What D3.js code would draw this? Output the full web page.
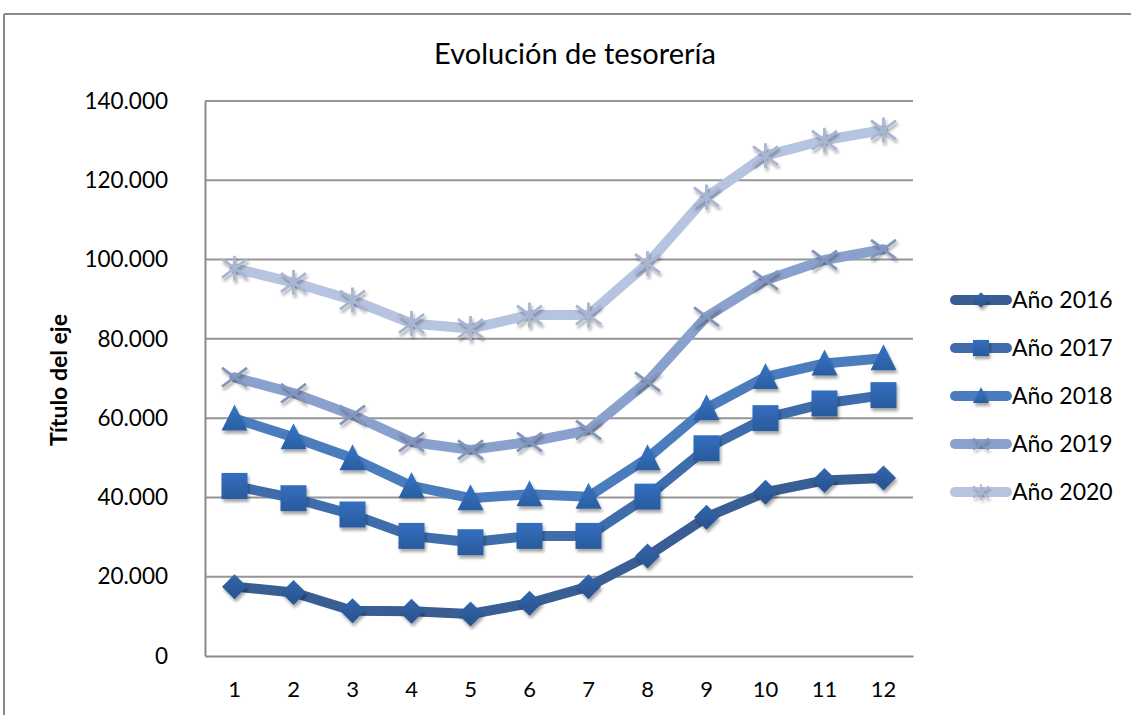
<!DOCTYPE html>
<html>
<head>
<meta charset="utf-8">
<script src="https://cdn.jsdelivr.net/npm/d3@7"></script>
<style>
  html, body { margin: 0; padding: 0; background: #ffffff; }
  svg { display: block; }
</style>
</head>
<body>
<svg id="chart" width="1131" height="715"></svg>
<script>
// ---- data ----
const months = [1, 2, 3, 4, 5, 6, 7, 8, 9, 10, 11, 12];
const seriesNames = ["Año 2016", "Año 2017", "Año 2018", "Año 2019", "Año 2020"];
const values2016 = [17500, 16000, 11400, 11300, 10600, 13300, 17500, 25200, 35000, 41300, 44300, 44900];
const values2017 = [42900, 39800, 35700, 30300, 28700, 30300, 30300, 40200, 52400, 60000, 63700, 65800];
const values2018 = [59900, 55200, 49900, 42900, 39800, 40800, 40200, 49900, 62500, 70400, 73800, 75100];
const values2019 = [70300, 66300, 60800, 54000, 52000, 54000, 57000, 69200, 85600, 94800, 99900, 102600];
const values2020 = [97800, 94200, 89800, 83900, 82600, 86000, 86000, 99000, 115800, 126200, 130100, 132700];
const yTicks = [0, 20000, 40000, 60000, 80000, 100000, 120000, 140000];
const title = "Evolución de tesorería";
const yTitle = "Título del eje";

const allValues = [values2016, values2017, values2018, values2019, values2020];
const lineColors = ["#395e94", "#3f6dac", "#4a7cbe", "#8aa1cd", "#b6c4e0"];
const markerColors = ["#2c5a99", "#2d62aa", "#2f67b0", "#8295bd", "#a8b5d3"];
const markerTypes = ["diamond", "square", "triangle", "x", "star"];

// ---- layout ----
const svg = d3.select("#chart");
const plot = { left: 205, right: 913, top: 101, bottom: 656 };

const x = d3.scaleBand().domain(months).range([plot.left, plot.right]);
const xc = m => x(m) + x.bandwidth() / 2;
const y = d3.scaleLinear().domain([0, 140000]).range([plot.bottom, plot.top]);

const locale = d3.formatLocale({ decimal: ",", thousands: ".", grouping: [3], currency: ["", "€"] });
const fmt = locale.format(",");

const font = "Lato, 'Open Sans', sans-serif";

// defs: shadow + gradients
const defs = svg.append("defs");
const filt = defs.append("filter").attr("id", "shadow").attr("x", "-50%").attr("y", "-50%").attr("width", "200%").attr("height", "200%");
filt.append("feDropShadow").attr("dx", 1.5).attr("dy", 3).attr("stdDeviation", 1.8)
  .attr("flood-color", "#000").attr("flood-opacity", 0.35);
markerColors.forEach((c, i) => {
  const g = defs.append("linearGradient").attr("id", "grad" + i).attr("x1", 0).attr("y1", 0).attr("x2", 0).attr("y2", 1);
  g.append("stop").attr("offset", "0%").attr("stop-color", d3.color(c).brighter(0.35));
  g.append("stop").attr("offset", "100%").attr("stop-color", d3.color(c).darker(0.25));
});

// outer frame (partial, top + left visible)
svg.append("line").attr("x1", 4).attr("y1", 14).attr("x2", 1131).attr("y2", 14)
  .attr("stroke", "#8a8a8a").attr("stroke-width", 2);
svg.append("line").attr("x1", 4).attr("y1", 14).attr("x2", 4).attr("y2", 715)
  .attr("stroke", "#8a8a8a").attr("stroke-width", 2);

// title
svg.append("text").attr("x", 575).attr("y", 64).attr("text-anchor", "middle")
  .attr("font-family", font).attr("font-size", 29).attr("fill", "#000").text(title);

// gridlines
svg.append("g").selectAll("line").data(yTicks.filter(t => t > 0)).join("line")
  .attr("x1", plot.left).attr("x2", plot.right)
  .attr("y1", d => y(d)).attr("y2", d => y(d))
  .attr("stroke", "#959595").attr("stroke-width", 2);

// y axis
const yAxis = d3.axisLeft(y).tickValues(yTicks).tickFormat(d => fmt(d)).tickSize(0).tickPadding(37);
const gy = svg.append("g").attr("transform", `translate(${plot.left},0)`).call(yAxis);
gy.select(".domain").attr("stroke", "#8a8a8a").attr("stroke-width", 2);
gy.selectAll("text").attr("font-family", font).attr("font-size", 22.5).attr("fill", "#000");

// x axis
const xAxis = d3.axisBottom(x).tickSize(0).tickPadding(25);
const gx = svg.append("g").attr("transform", `translate(0,${plot.bottom})`).call(xAxis);
gx.select(".domain").attr("stroke", "#8a8a8a").attr("stroke-width", 2);
gx.selectAll("text").attr("font-family", font).attr("font-size", 22).attr("fill", "#000");

// y title
svg.append("text").attr("transform", "translate(67,380) rotate(-90)").attr("text-anchor", "middle")
  .attr("font-family", font).attr("font-weight", "bold").attr("font-size", 23).attr("fill", "#000").text(yTitle);

// marker drawing
function drawMarker(g, type, i, cx, cy, scale) {
  const s = scale || 1;
  const fill = `url(#grad${i})`;
  if (type === "diamond") {
    const r = 12.5 * s;
    g.append("path").attr("d", `M${cx},${cy - r}L${cx + r},${cy}L${cx},${cy + r}L${cx - r},${cy}Z`)
      .attr("fill", fill).attr("filter", "url(#shadow)");
  } else if (type === "square") {
    const h = 13 * s;
    g.append("rect").attr("x", cx - h).attr("y", cy - h).attr("width", 2 * h).attr("height", 2 * h)
      .attr("fill", fill).attr("filter", "url(#shadow)");
  } else if (type === "triangle") {
    const w = 13 * s, h = 13 * s;
    g.append("path").attr("d", `M${cx},${cy - h - 1}L${cx + w},${cy + h - 1}L${cx - w},${cy + h - 1}Z`)
      .attr("fill", fill).attr("filter", "url(#shadow)");
  } else {
    const r = 12.5 * s;
    const mg = g.append("g").attr("filter", "url(#shadow)").attr("stroke", markerColors[i])
      .attr("stroke-width", 2.8 * s).attr("fill", "none");
    mg.append("line").attr("x1", cx - r).attr("y1", cy - r * 0.75).attr("x2", cx + r).attr("y2", cy + r * 0.75);
    mg.append("line").attr("x1", cx - r).attr("y1", cy + r * 0.75).attr("x2", cx + r).attr("y2", cy - r * 0.75);
    if (type === "star") {
      mg.append("line").attr("x1", cx).attr("y1", cy - r).attr("x2", cx).attr("y2", cy + r);
    }
  }
}

// series
const line = d3.line().x((d, j) => xc(months[j])).y(d => y(d));
allValues.forEach((vals, i) => {
  const g = svg.append("g");
  g.append("path").datum(vals).attr("d", line)
    .attr("fill", "none").attr("stroke", lineColors[i]).attr("stroke-width", 10)
    .attr("stroke-linejoin", "round").attr("stroke-linecap", "round");
  vals.forEach((v, j) => drawMarker(g, markerTypes[i], i, xc(months[j]), y(v), 1));
});

// legend
const legendY = d3.scalePoint().domain(seriesNames).range([300, 492]);
seriesNames.forEach((name, i) => {
  const g = svg.append("g");
  const ly = legendY(name);
  g.append("line").attr("x1", 955).attr("x2", 1007).attr("y1", ly).attr("y2", ly)
    .attr("stroke", lineColors[i]).attr("stroke-width", 10).attr("stroke-linecap", "round");
  drawMarker(g, markerTypes[i], i, 981, ly, 0.62);
  g.append("text").attr("x", 1012).attr("y", ly).attr("dy", "0.36em")
    .attr("font-family", font).attr("font-size", 23).attr("fill", "#000").text(name);
});
</script>
</body>
</html>
